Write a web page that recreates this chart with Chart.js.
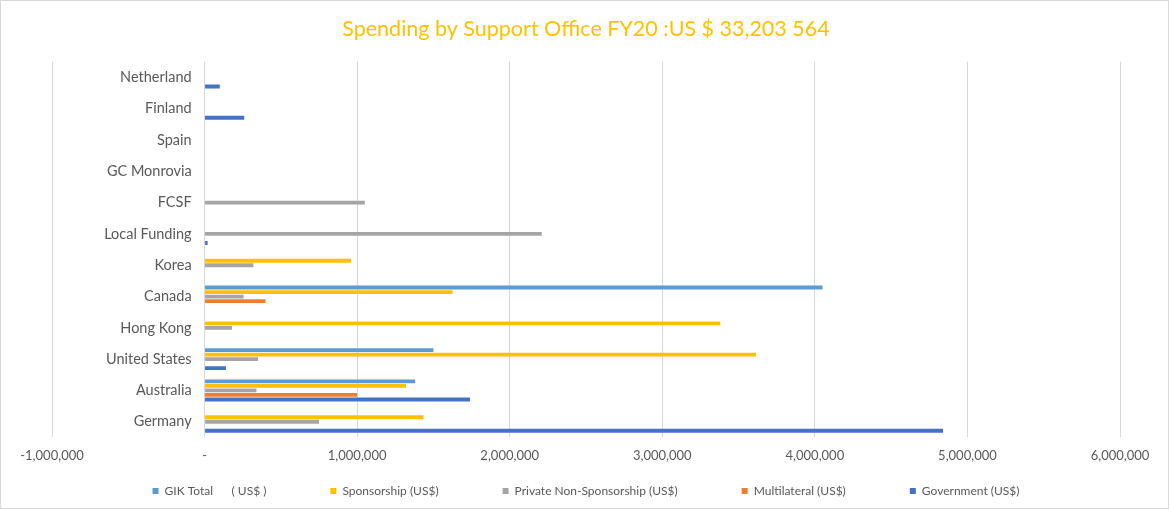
<!DOCTYPE html>
<html>
<head>
<meta charset="utf-8">
<script src="https://cdn.jsdelivr.net/npm/chart.js@4"></script>
<style>
  body { margin: 0; background: #fff; }
  .chart-box { width: 1169px; height: 509px; box-sizing: border-box; border: 1px solid #d9d9d9; }
</style>
</head>
<body>
<div class="chart-box"><canvas id="spendingChart"></canvas></div>
<script>
const offices = ['Netherland', 'Finland', 'Spain', 'GC Monrovia', 'FCSF', 'Local Funding',
    'Korea', 'Canada', 'Hong Kong', 'United States', 'Australia', 'Germany'];

const gikTotal       = [0, 0, 0, 0, 0, 0, 0, 4050000, 0, 1500000, 1380000, 0];
const sponsorship    = [0, 0, 0, 0, 0, 0, 960000, 1625000, 3380000, 3615000, 1320000, 1435000];
const privateNonSpon = [0, 0, 0, 0, 1050000, 2210000, 320000, 256000, 180000, 350000, 340000, 750000];
const multilateral   = [0, 0, 0, 0, 0, 0, 0, 400000, 0, 0, 1000000, 0];
const government     = [100000, 260000, 0, 0, 0, 20000, 0, 0, 0, 140000, 1740000, 4840000];

const xTicks = [-1000000, 0, 1000000, 2000000, 3000000, 4000000, 5000000, 6000000];

const fontFamily = 'Lato, "Open Sans", sans-serif';
const textColor = '#595959';
const legendPad = 64;
const legendLift = legendPad - 10;

// labels.padding spaces the legend items apart but also pads the row
// vertically; give back that height and draw the row higher
const legendRow = {
    id: 'legendRow',
    beforeInit(chart) {
        const fit = chart.legend.fit;
        chart.legend.fit = function () {
            fit.call(this);
            this.height -= legendLift;
        };
    },
    afterLayout(chart) {
        chart.legend.top -= legendLift;
    }
};

function serie(label, data, color) {
    return {
        label: label,
        data: data,
        backgroundColor: color,
        borderWidth: 0,
        barPercentage: 0.85,
        categoryPercentage: 0.72
    };
}

const ctx = document.getElementById('spendingChart').getContext('2d');

new Chart(ctx, {
    type: 'bar',
    data: {
        labels: offices,
        datasets: [
            serie('GIK Total      ( US$ )', gikTotal, '#5B9BD5'),
            serie('Sponsorship (US$)', sponsorship, '#FFC000'),
            serie('Private Non-Sponsorship (US$)', privateNonSpon, '#A5A5A5'),
            serie('Multilateral (US$)', multilateral, '#ED7D31'),
            serie('Government (US$)', government, '#4472C4')
        ]
    },
    options: {
        indexAxis: 'y',
        responsive: true,
        maintainAspectRatio: false,
        animation: false,
        layout: {
            padding: { left: 51, right: 48, top: 0, bottom: 1 }
        },
        plugins: {
            title: {
                display: true,
                text: 'Spending by Support Office FY20 :US $ 33,203 564',
                color: '#FFC000',
                font: { family: fontFamily, size: 21.5, weight: 'normal' },
                padding: { top: 15, bottom: 20 }
            },
            legend: {
                position: 'bottom',
                labels: {
                    color: textColor,
                    font: { family: fontFamily, size: 12 },
                    boxWidth: 6,
                    boxHeight: 6,
                    padding: legendPad
                }
            },
            tooltip: { enabled: false }
        },
        scales: {
            x: {
                min: -1000000,
                max: 6000000,
                afterBuildTicks: scale => {
                    scale.ticks = xTicks.map(v => ({ value: v }));
                },
                grid: { color: '#d9d9d9', drawTicks: false },
                border: { display: false },
                ticks: {
                    color: textColor,
                    font: { family: fontFamily, size: 13 },
                    padding: 11,
                    maxRotation: 0,
                    callback: v => v === 0 ? '-' : v.toLocaleString('en-US')
                }
            },
            y: {
                // category names sit just left of the zero line
                position: { x: -85000 },
                grid: { display: false, drawTicks: false },
                border: { display: false },
                ticks: {
                    color: textColor,
                    font: { family: fontFamily, size: 14.5 }
                }
            }
        }
    },
    plugins: [legendRow]
});
</script>
</body>
</html>
